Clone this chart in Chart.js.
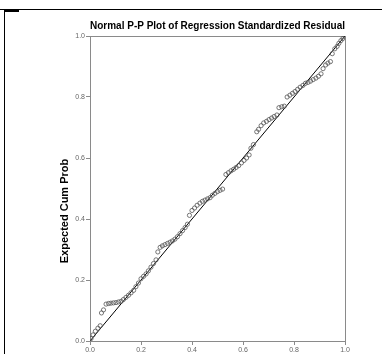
<!DOCTYPE html>
<html>
<head>
<meta charset="utf-8">
<script src="https://cdn.jsdelivr.net/npm/chart.js@4.4.1/dist/chart.umd.min.js"></script>
<style>
  html, body { margin: 0; padding: 0; background: #fff; }
  #wrap { position: relative; width: 382px; height: 354px; overflow: hidden; }
  #ppChart { position: absolute; left: 0; top: 0; }
  .rule { position: absolute; background: #000; }
</style>
</head>
<body>
<div id="wrap">
  <canvas id="ppChart" width="382" height="354"></canvas>
  <div class="rule" style="left:0;top:9px;width:382px;height:1px"></div>
  <div class="rule" style="left:4px;top:9px;width:1px;height:345px"></div>
  <div class="rule" style="left:4px;top:10px;width:15px;height:2px"></div>
</div>
<script>
// values
const chartTitle = 'Normal P-P Plot of Regression Standardized Residual';
const yAxisTitle = 'Expected Cum Prob';
const tickLabels = ['0.0', '0.2', '0.4', '0.6', '0.8', '1.0'];

const observedProb = [
  0.004, 0.012, 0.021, 0.031, 0.040, 0.045, 0.053, 0.063, 0.073, 0.082,
  0.092, 0.102, 0.112, 0.122, 0.131, 0.141, 0.151, 0.161, 0.171, 0.180,
  0.190, 0.200, 0.210, 0.220, 0.229, 0.239, 0.249, 0.259, 0.266, 0.275,
  0.284, 0.294, 0.304, 0.314, 0.323, 0.333, 0.343, 0.353, 0.363, 0.373,
  0.382, 0.390, 0.400, 0.410, 0.420, 0.431, 0.441, 0.451, 0.461, 0.471,
  0.480, 0.490, 0.500, 0.510, 0.520, 0.533, 0.543, 0.553, 0.563, 0.573,
  0.583, 0.594, 0.604, 0.614, 0.624, 0.631, 0.641, 0.654, 0.661, 0.671,
  0.681, 0.692, 0.702, 0.712, 0.722, 0.733, 0.741, 0.752, 0.762, 0.773,
  0.784, 0.794, 0.804, 0.814, 0.824, 0.835, 0.845, 0.855, 0.865, 0.875,
  0.886, 0.896, 0.906, 0.914, 0.924, 0.933, 0.943, 0.950, 0.960, 0.969,
  0.976, 0.984, 0.992, 1.000
];
const expectedProb = [
  0.008, 0.020, 0.032, 0.042, 0.050, 0.092, 0.102, 0.121, 0.123, 0.124,
  0.125, 0.126, 0.128, 0.130, 0.136, 0.143, 0.150, 0.158, 0.166, 0.178,
  0.190, 0.204, 0.212, 0.220, 0.230, 0.242, 0.254, 0.266, 0.292, 0.307,
  0.312, 0.316, 0.320, 0.324, 0.328, 0.334, 0.342, 0.352, 0.362, 0.372,
  0.383, 0.412, 0.428, 0.436, 0.445, 0.452, 0.458, 0.462, 0.466, 0.470,
  0.478, 0.484, 0.490, 0.494, 0.498, 0.546, 0.552, 0.558, 0.563, 0.569,
  0.575, 0.584, 0.592, 0.600, 0.610, 0.632, 0.644, 0.686, 0.694, 0.706,
  0.715, 0.720, 0.726, 0.731, 0.736, 0.741, 0.765, 0.768, 0.770, 0.800,
  0.806, 0.812, 0.818, 0.825, 0.832, 0.838, 0.845, 0.848, 0.852, 0.857,
  0.862, 0.868, 0.876, 0.893, 0.905, 0.911, 0.916, 0.942, 0.958, 0.966,
  0.976, 0.985, 0.992, 0.998
];
const refLine = [0, 1];

const axisGrey = '#8a8a8a';
const labelGrey = '#666';
const titleFont = 'bold 11px "Liberation Sans Narrow", "Arial Narrow", "Liberation Sans", sans-serif';

// thin box around the plot area + the y axis title (sits a bit below centre in SPSS output)
const frameBox = {
  id: 'frameBox',
  beforeDatasetsDraw(chart) {
    const { ctx, chartArea: a } = chart;
    ctx.save();
    ctx.strokeStyle = axisGrey;
    ctx.lineWidth = 1;
    ctx.strokeRect(Math.round(a.left) + 0.5, Math.round(a.top) + 0.5,
      Math.round(a.right - a.left), Math.round(a.bottom - a.top));
    ctx.restore();
  },
  afterDraw(chart) {
    const ctx = chart.ctx;
    ctx.save();
    ctx.translate(65, 211);
    ctx.rotate(-Math.PI / 2);
    ctx.font = titleFont;
    ctx.fillStyle = '#000';
    ctx.textAlign = 'center';
    ctx.textBaseline = 'middle';
    ctx.fillText(yAxisTitle, 0, 0);
    ctx.restore();
  }
};

const pts = observedProb.map((x, i) => ({ x: x, y: expectedProb[i] }));

const tickOpts = {
  color: labelGrey,
  font: { family: 'Liberation Sans, Arial, sans-serif', size: 7 },
  stepSize: 0.2,
  padding: 1,
  callback: (v) => tickLabels[Math.round(v * 5)]
};

new Chart(document.getElementById('ppChart'), {
  type: 'scatter',
  data: {
    datasets: [{
      data: pts,
      pointStyle: 'circle',
      pointRadius: 2.1,
      pointBorderWidth: 0.8,
      borderColor: '#555',
      backgroundColor: 'rgba(0,0,0,0)'
    }, {
      type: 'line',
      data: refLine.map(v => ({ x: v, y: v })),
      borderColor: '#000',
      borderWidth: 1,
      pointRadius: 0,
      fill: false
    }]
  },
  options: {
    responsive: false,
    animation: false,
    layout: { padding: { left: 0, right: 37, top: 0, bottom: 0 } },
    plugins: {
      legend: { display: false },
      tooltip: { enabled: false },
      title: {
        display: true,
        text: chartTitle,
        fullSize: false,
        color: '#000',
        font: { family: 'Liberation Sans Narrow, Arial Narrow, Liberation Sans, sans-serif', size: 11, weight: 'bold', lineHeight: 1 },
        padding: { top: 20, bottom: 5 }
      }
    },
    scales: {
      x: {
        type: 'linear', min: 0, max: 1,
        grid: { drawOnChartArea: false, color: axisGrey, tickLength: 4 },
        border: { color: axisGrey },
        ticks: tickOpts,
        afterFit(s) { s.height = 13; }
      },
      y: {
        type: 'linear', min: 0, max: 1,
        grid: { drawOnChartArea: false, color: axisGrey, tickLength: 4 },
        border: { color: axisGrey },
        ticks: tickOpts,
        afterFit(s) { s.width = 90; }
      }
    }
  },
  plugins: [frameBox]
});
</script>
</body>
</html>
